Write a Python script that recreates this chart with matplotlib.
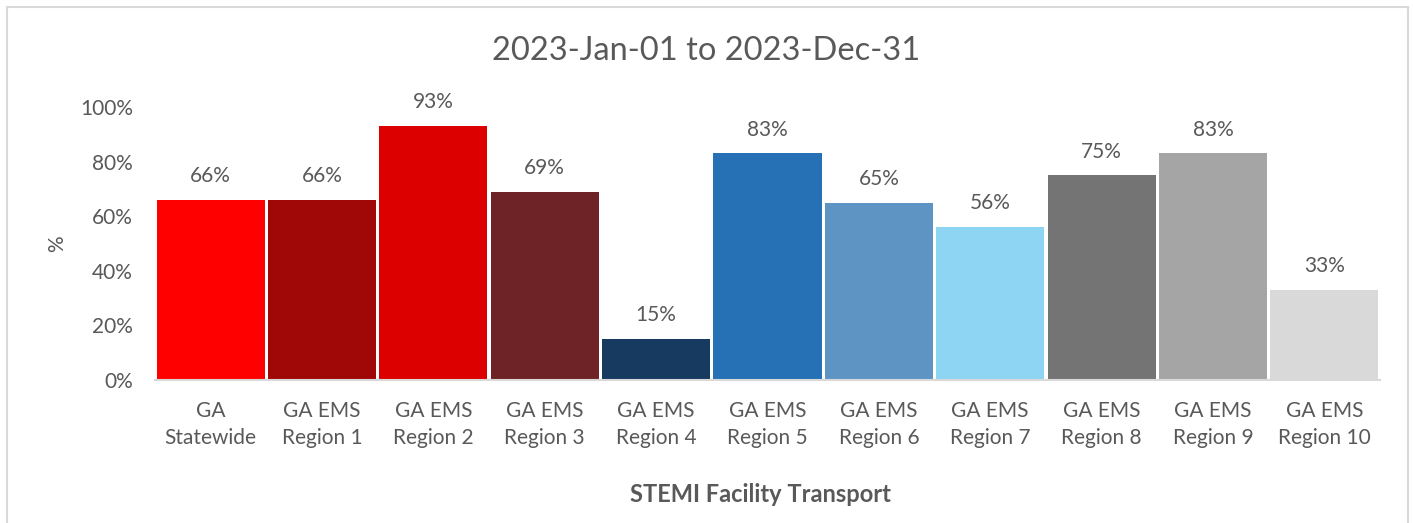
import matplotlib
matplotlib.use("Agg")
import matplotlib.pyplot as plt
from matplotlib.patches import Rectangle
from matplotlib.ticker import FuncFormatter

categories = ["GA\nStatewide", "GA EMS\nRegion 1", "GA EMS\nRegion 2", "GA EMS\nRegion 3",
              "GA EMS\nRegion 4", "GA EMS\nRegion 5", "GA EMS\nRegion 6", "GA EMS\nRegion 7",
              "GA EMS\nRegion 8", "GA EMS\nRegion 9", "GA EMS\nRegion 10"]
values = [66, 66, 93, 69, 15, 83, 65, 56, 75, 83, 33]
colors = ["#FE0000", "#A00808", "#DC0000", "#6E2426", "#173A60", "#2671B5",
          "#5E94C4", "#8DD5F3", "#747474", "#A5A5A5", "#D9D9D9"]
title = "2023-Jan-01 to 2023-Dec-31"
xlabel = "STEMI Facility Transport"
ylabel = "%"

plt.rcParams['font.family'] = ['Lato', 'DejaVu Sans']
txt = "#595959"

fig = plt.figure(figsize=(14.13, 5.23), dpi=100)
fig.patches.append(Rectangle((7/1413, -0.1), (1408-7)/1413, 1.1 - 7/523, transform=fig.transFigure,
                             fill=False, edgecolor="#D9D9D9", linewidth=1.5))
ax = fig.add_axes([155/1413, (523-380)/523, (1380-155)/1413, (380-107)/523])

x = list(range(len(categories)))
bars = ax.bar(x, values, width=0.97, color=colors)
for xi, v in zip(x, values):
    ax.text(xi, v + 5, f"{v}%", ha="center", va="bottom", fontsize=15, color=txt)

ax.set_ylim(0, 100)
ax.set_xlim(-0.5, len(categories) - 0.5)
ax.set_yticks([0, 20, 40, 60, 80, 100])
ax.yaxis.set_major_formatter(FuncFormatter(lambda v, p: f"{int(v)}%"))
ax.set_xticks(x)
ax.set_xticklabels(categories, fontsize=15, color=txt, linespacing=1.45)
ax.tick_params(axis="y", labelsize=15, labelcolor=txt, length=0, pad=16)
ax.tick_params(axis="x", length=0, pad=15)
for s in ["top", "right", "left"]:
    ax.spines[s].set_visible(False)
ax.spines["bottom"].set_color("#D9D9D9")
ax.spines["bottom"].set_linewidth(1.5)

ax.set_ylabel(ylabel, fontsize=15, color=txt, labelpad=9)
fig.text(706/1413, 1 - 51/523, title, ha="center", va="center", fontsize=23.5, color=txt)
fig.text(760/1413, 1 - 495/523, xlabel, ha="center", va="center", fontsize=17,
         fontweight="bold", color=txt)

fig.savefig("out.png", dpi=100)
